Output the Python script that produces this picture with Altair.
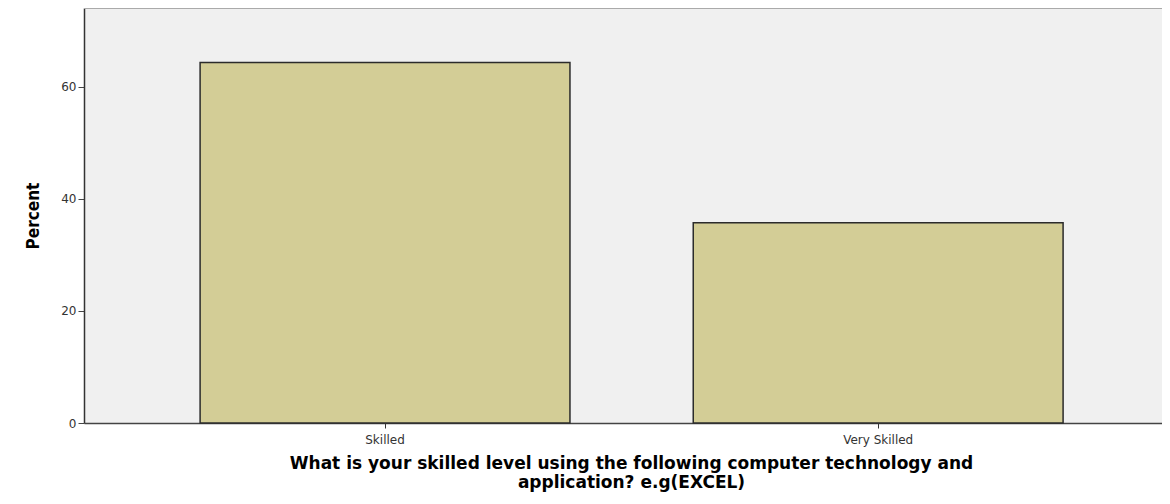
import altair as alt
import pandas as pd

categories = ["Skilled", "Very Skilled"]
percents = [64.3, 35.7]

df = pd.DataFrame({"level": categories, "pct": percents})

x_title = ["What is your skilled level using the following computer technology and",
           "application? e.g(EXCEL)"]

bars = alt.Chart(df).mark_bar(
    fill="#D3CD96", stroke="#2b2b2b", strokeWidth=1.5
).encode(
    x=alt.X("level:N", sort=categories,
            scale=alt.Scale(paddingInner=0.25, paddingOuter=0.218, align=0.54),
            axis=alt.Axis(title=x_title, labelAngle=0, labelFont="DejaVu Sans",
                          labelFontSize=12, labelColor="#333", labelPadding=6,
                          tickSize=5, tickColor="#333", domainColor="#444",
                          domainWidth=1.5, titleFont="DejaVu Sans", titleFontWeight="bold",
                          titleFontSize=17, titleLineHeight=19, titleColor="#000",
                          titlePadding=10, titleX=547)),
    y=alt.Y("pct:Q", scale=alt.Scale(domain=[0, 74], nice=False),
            axis=alt.Axis(title="Percent", values=[0, 20, 40, 60], grid=False,
                          labelFont="DejaVu Sans", labelFontSize=12, labelColor="#333",
                          tickSize=6, tickColor="#444", domainColor="#333",
                          domainWidth=1.5, labelPadding=2,
                          titleFont="DejaVu Sans Condensed", titleFontWeight="bold",
                          titleFontSize=17, titleColor="#000", titlePadding=18)),
)

top = alt.Chart(df).mark_rule(color="#aaaaaa", strokeWidth=2).encode(
    y=alt.value(0), x=alt.value(0), x2=alt.value(1078)
)

chart = alt.layer(bars, top).properties(
    width=1078, height=415,
    autosize=alt.AutoSizeParams(type="none"),
    padding={"left": 76, "top": 0, "right": 0, "bottom": 72},
    background="white",
).configure_view(fill="#F0F0F0", stroke=None)

chart.save("out.html", embed_options={"renderer": "svg", "actions": False})
